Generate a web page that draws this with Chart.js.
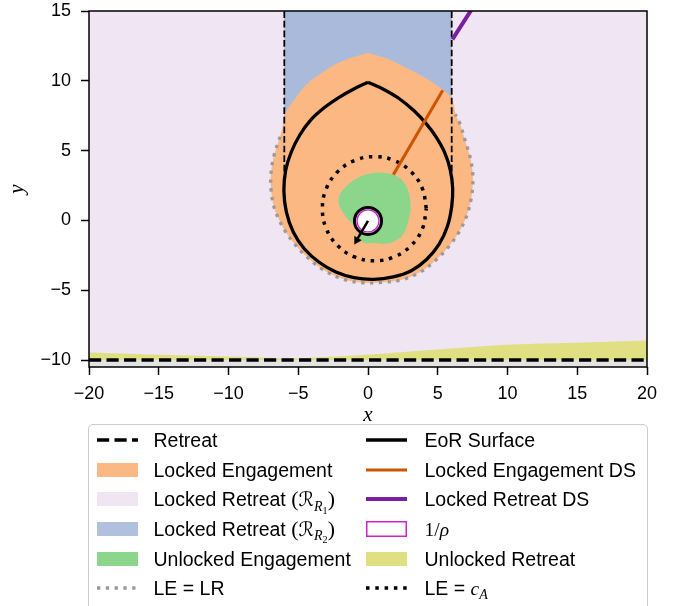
<!DOCTYPE html>
<html>
<head>
<meta charset="utf-8">
<title>Engagement regions</title>
<script src="https://cdn.jsdelivr.net/npm/chart.js@4.4.1/dist/chart.umd.min.js"></script>
<style>
  html, body { margin: 0; padding: 0; background: #ffffff; }
  #wrap { position: relative; width: 688px; height: 606px; overflow: hidden; }
  #plot { position: absolute; left: 0; top: 0; }
  #legend { position: absolute; left: 88px; top: 424px; width: 560px; height: 200px;
    box-sizing: border-box; border: 1.5px solid #cccccc; border-radius: 5px;
    background: rgba(255,255,255,0.85);
    font-family: "Liberation Sans", Arial, Helvetica, sans-serif; font-size: 19.5px; color: #000; }
  .item { position: absolute; height: 24px; }
  .item svg { position: absolute; left: 0; top: 0; overflow: visible; }
  .item .lbl { position: absolute; top: 0; line-height: 24px; white-space: nowrap; }
  .m { font-family: "Liberation Serif", "DejaVu Serif", serif; font-style: italic; }
  .scr { font-family: "DejaVu Serif", "DejaVu Sans", serif; font-style: normal; }
  .par { font-family: "Liberation Serif", serif; font-style: normal; font-size: 112%; }
  .sb { font-size: 72%; position: relative; top: 0.3em; }
</style>
</head>
<body>
<div id="wrap">
  <canvas id="plot" width="688" height="606"></canvas>
  <div id="legend">
    <!-- left column -->
    <div class="item" style="left:7.5px; top:3.2px;">
      <svg width="41" height="24"><line x1="0" y1="12" x2="41" y2="12" stroke="#000" stroke-width="3.3" stroke-dasharray="12.2 5.3"/></svg>
      <span class="lbl" style="left:57px;">Retreat</span>
    </div>
    <div class="item" style="left:7.5px; top:32.8px;">
      <svg width="41" height="24"><rect x="0" y="5" width="41" height="14" fill="#fcb882"/></svg>
      <span class="lbl" style="left:57px;">Locked Engagement</span>
    </div>
    <div class="item" style="left:7.5px; top:62.4px;">
      <svg width="41" height="24"><rect x="0" y="5" width="41" height="14" fill="#f0e5f3"/></svg>
      <span class="lbl" style="left:57px;">Locked Retreat <span class="par">(</span><span class="scr">ℛ</span><span class="sb"><span class="m">R</span><span class="sb par">1</span></span><span class="par">)</span></span>
    </div>
    <div class="item" style="left:7.5px; top:92px;">
      <svg width="41" height="24"><rect x="0" y="5" width="41" height="14" fill="#b0c0dd"/></svg>
      <span class="lbl" style="left:57px;">Locked Retreat <span class="par">(</span><span class="scr">ℛ</span><span class="sb"><span class="m">R</span><span class="sb par">2</span></span><span class="par">)</span></span>
    </div>
    <div class="item" style="left:7.5px; top:121.6px;">
      <svg width="41" height="24"><rect x="0" y="5" width="41" height="14" fill="#8cd68c"/></svg>
      <span class="lbl" style="left:57px;">Unlocked Engagement</span>
    </div>
    <div class="item" style="left:7.5px; top:151.2px;">
      <svg width="41" height="24"><line x1="0" y1="12" x2="41" y2="12" stroke="#9a9a9a" stroke-width="3.3" stroke-dasharray="3.3 5.5"/></svg>
      <span class="lbl" style="left:57px;">LE = LR</span>
    </div>
    <!-- right column -->
    <div class="item" style="left:277px; top:3.2px;">
      <svg width="41" height="24"><line x1="0" y1="12" x2="41" y2="12" stroke="#000" stroke-width="3.3"/></svg>
      <span class="lbl" style="left:58.5px;">EoR Surface</span>
    </div>
    <div class="item" style="left:277px; top:32.8px;">
      <svg width="41" height="24"><line x1="0" y1="12" x2="41" y2="12" stroke="#cc5500" stroke-width="3"/></svg>
      <span class="lbl" style="left:58.5px;">Locked Engagement DS</span>
    </div>
    <div class="item" style="left:277px; top:62.4px;">
      <svg width="41" height="24"><line x1="0" y1="12" x2="41" y2="12" stroke="#7b1fa2" stroke-width="4"/></svg>
      <span class="lbl" style="left:58.5px;">Locked Retreat DS</span>
    </div>
    <div class="item" style="left:277px; top:92px;">
      <svg width="41" height="24"><rect x="0.75" y="4.75" width="39.5" height="14.5" fill="#ffffff" stroke="#d020d0" stroke-width="1.5"/></svg>
      <span class="lbl" style="left:58.5px;"><span class="par" style="font-size:100%">1/</span><span class="m">ρ</span></span>
    </div>
    <div class="item" style="left:277px; top:121.6px;">
      <svg width="41" height="24"><rect x="0" y="5" width="41" height="14" fill="#e0df82"/></svg>
      <span class="lbl" style="left:58.5px;">Unlocked Retreat</span>
    </div>
    <div class="item" style="left:277px; top:151.2px;">
      <svg width="41" height="24"><line x1="0" y1="12" x2="41" y2="12" stroke="#000" stroke-width="3.5" stroke-dasharray="3.5 5.8"/></svg>
      <span class="lbl" style="left:58.5px;">LE = <span class="m">c</span><span class="sb m">A</span></span>
    </div>
  </div>
</div>
<script>
// Axis ranges and tick positions
const xRange = [-20, 20];
const yRange = [-10.5, 15];
const xTicks = [-20, -15, -10, -5, 0, 5, 10, 15, 20];
const yTicks = [-10, -5, 0, 5, 10, 15];

// Region outlines, (x, y) pairs
const belowRetreat = [[-20, -10.5], [20, -10.5], [20, -10], [-20, -10]];
const lockedRetreat1 = [[-20, -10], [20, -10], [20, 15], [-20, 15]];
const unlockedRetreat = [[-20, -9.46], [-15, -9.62], [-10, -9.74], [-7, -9.84], [-6, -9.9], [-5, -9.88],
  [-3, -9.78], [-1, -9.67], [1, -9.55], [3.7, -9.33], [6, -9.17], [9.5, -8.93], [12, -8.84],
  [15, -8.76], [20, -8.61], [20, -10], [-20, -10]];
const lockedRetreat2 = [[-6, 3.5], [6, 3.5], [6, 15], [-6, 15]];
const lockedEngagement = [[0, 12.0], [1.2, 11.65], [2.3, 11.15], [3.4, 10.6], [4.45, 10.0], [5.3, 9.4],
  [5.95, 8.85], [6.15, 8.3], [6.3, 7.55], [6.6, 6.9], [7.0, 5.6], [7.35, 4.4], [7.52, 3.1],
  [7.42, 1.7], [7.1, 0.4], [6.6, -0.7], [5.85, -1.8], [4.85, -2.85], [3.75, -3.7], [2.45, -4.25],
  [1.1, -4.43], [-0.35, -4.47], [-1.8, -4.2], [-3.35, -3.45], [-4.5, -2.5], [-5.25, -1.7],
  [-5.95, -0.75], [-6.4, 0.1], [-6.75, 1.0], [-6.95, 2.2], [-6.95, 3.4], [-6.75, 4.6], [-6.4, 5.7],
  [-6.1, 6.8], [-5.95, 7.65], [-5.2, 8.75], [-4.4, 9.75], [-3.4, 10.5], [-2.5, 11.1], [-1.2, 11.65],
  [0, 12.0]];
const unlockedEngagement = [[1.3, 3.4], [2.0, 3.2], [2.6, 2.7], [2.95, 1.9], [3.05, 0.9], [2.85, -0.2],
  [2.5, -1.05], [1.9, -1.5], [1.3, -1.68], [0.4, -1.62], [-0.33, -1.6], [-0.7, -0.75], [-0.4, -0.3],
  [-0.88, -0.29], [-1.2, -0.15], [-1.65, 0.36], [-2.1, 1.2], [-2.0, 1.9], [-1.55, 2.45], [-0.9, 2.95],
  [-0.1, 3.3], [0.6, 3.42], [1.3, 3.4]];

// Boundary curves
const retreatLine = [[-20, -10], [20, -10]];
const r2EdgeLeft = [[-6, 3.5], [-6, 15]];
const r2EdgeRight = [[6, 3.5], [6, 15]];
const leEqualsLr = [[-6.3, 6.0], [-6.75, 4.6], [-6.95, 3.4], [-6.95, 2.2], [-6.75, 1.0], [-6.4, 0.1],
  [-5.95, -0.75], [-5.25, -1.7], [-4.5, -2.5], [-3.35, -3.45], [-1.8, -4.2], [-0.35, -4.47],
  [1.1, -4.43], [2.45, -4.25], [3.75, -3.7], [4.85, -2.85], [5.85, -1.8], [6.6, -0.7], [7.1, 0.4],
  [7.42, 1.7], [7.52, 3.1], [7.35, 4.4], [7.0, 5.6], [6.6, 6.9], [6.25, 7.6]];
const eorSurface = [[0, 9.9], [1.1, 9.4], [2.2, 8.75], [3.3, 7.85], [4.2, 6.9], [4.9, 5.95], [5.5, 4.85],
  [5.9, 3.6], [6.07, 2.3], [6.0, 1.0], [5.7, -0.4], [5.1, -1.7], [4.2, -2.8], [3.1, -3.6],
  [1.8, -4.05], [0.4, -4.22], [-1.0, -4.1], [-2.3, -3.7], [-3.5, -3.0], [-4.55, -2.05],
  [-5.35, -0.85], [-5.85, 0.6], [-6.03, 2.1], [-5.9, 3.6], [-5.5, 4.9], [-4.9, 6.1], [-4.1, 7.2],
  [-3.1, 8.1], [-2.1, 8.8], [-1.05, 9.4], [0, 9.9]];
const leEqualsCa = [[4.18, 0.84], [3.90, 2.27], [3.09, 3.48], [1.88, 4.29], [0.46, 4.57], [-0.97, 4.29],
  [-2.18, 3.48], [-2.99, 2.27], [-3.27, 0.84], [-2.99, -0.59], [-2.18, -1.80], [-0.97, -2.61],
  [0.46, -2.89], [1.88, -2.61], [3.09, -1.80], [3.90, -0.59], [4.18, 0.84]];
const lockedEngagementDS = [[1.82, 3.28], [5.36, 9.33]];
const lockedRetreatDS = [[6.05, 12.97], [7.68, 15.5]];

// Pursuer position and heading
const pursuer = [[0.0, -0.04]];
const headingShaft = [[0.0, -0.04], [-0.8, -1.4]];
const headingTip = [[-0.8, -1.42]];

const pts = a => a.map(([x, y]) => ({ x, y }));
function series(label, coords, opts) {
  return Object.assign({
    label, data: pts(coords), pointRadius: 0, pointHoverRadius: 0,
    borderWidth: 0, borderColor: 'rgba(0,0,0,0)', backgroundColor: 'rgba(0,0,0,0)',
    fill: false, tension: 0, borderCapStyle: 'butt', borderJoinStyle: 'round'
  }, opts);
}
const area = (label, coords, color, tension) =>
  series(label, coords, { fill: 'shape', backgroundColor: color, tension: tension || 0 });

// listed from bottom layer to top layer
const layers = [
  area('below', belowRetreat, '#e3e3e3'),
  area('Locked Retreat R1', lockedRetreat1, '#f0e5f3'),
  area('Unlocked Retreat', unlockedRetreat, '#e0df82'),
  area('Locked Retreat R2', lockedRetreat2, '#aabadb'),
  area('Locked Engagement', lockedEngagement, '#fcb882', 0.35),
  area('Unlocked Engagement', unlockedEngagement, '#8cd68c', 0.35),
  series('LE = LR', leEqualsLr, { borderColor: '#9a9a9a', borderWidth: 3.3, borderDash: [3.3, 5.5], tension: 0.35 }),
  series('R2 left edge', r2EdgeLeft, { borderColor: '#000', borderWidth: 1.8, borderDash: [6.7, 2.9] }),
  series('R2 right edge', r2EdgeRight, { borderColor: '#000', borderWidth: 1.8, borderDash: [6.7, 2.9] }),
  series('Retreat', retreatLine, { borderColor: '#000', borderWidth: 3.3, borderDash: [12.2, 5.3] }),
  series('EoR Surface', eorSurface, { borderColor: '#000', borderWidth: 3.3, tension: 0.35 }),
  series('LE = cA', leEqualsCa, { borderColor: '#000', borderWidth: 3.5, borderDash: [3.5, 5.8], tension: 0.4 }),
  series('Locked Engagement DS', lockedEngagementDS, { borderColor: '#cc5500', borderWidth: 3 }),
  series('Locked Retreat DS', lockedRetreatDS, { borderColor: '#7b1fa2', borderWidth: 4 }),
  series('pursuer', pursuer, { showLine: false, pointRadius: 13.5, pointBorderWidth: 3,
    pointBorderColor: '#000', pointBackgroundColor: '#ffffff' }),
  series('1/rho', pursuer, { showLine: false, pointRadius: 11, pointBorderWidth: 1.3,
    pointBorderColor: '#d020d0', pointBackgroundColor: 'rgba(0,0,0,0)' }),
  series('heading', headingShaft, { borderColor: '#000', borderWidth: 2.5 }),
  series('heading tip', headingTip, { showLine: false, pointRadius: 4.5, pointStyle: 'triangle',
    rotation: 210, pointBorderWidth: 0.5, pointBorderColor: '#000', pointBackgroundColor: '#000' })
];
layers.forEach((d, i) => { d.order = layers.length - i; });

const tickFont = { family: "'Liberation Sans', Arial, Helvetica, sans-serif", size: 18 };
const mathFont = { family: "'Liberation Serif', 'DejaVu Serif', serif", style: 'italic', size: 21 };
const fmt = v => (v < 0 ? '\u2212' + Math.abs(v) : String(v));
const tickGrid = { display: true, drawOnChartArea: false, drawTicks: true, tickLength: 8, tickWidth: 1.5, tickColor: '#000' };

const frame = {
  id: 'frame',
  afterDraw(chart) {
    const { ctx, chartArea: a } = chart;
    ctx.save();
    ctx.strokeStyle = '#000';
    ctx.lineWidth = 1.5;
    ctx.strokeRect(a.left, a.top, a.right - a.left, a.bottom - a.top);
    ctx.restore();
  }
};

// keep the plot box fixed: no extra room reserved for overhanging tick labels
const noOverhang = s => { s.paddingTop = 0; s.paddingBottom = 0; s.paddingLeft = 0; s.paddingRight = 0; };

new Chart(document.getElementById('plot'), {
  type: 'line',
  data: { datasets: layers },
  plugins: [frame],
  options: {
    responsive: false, animation: false, devicePixelRatio: 1, events: [],
    layout: { autoPadding: false, padding: { left: 0, right: 41, top: 11, bottom: 178 } },
    plugins: { legend: { display: false }, tooltip: { enabled: false } },
    scales: {
      x: {
        type: 'linear', min: xRange[0], max: xRange[1],
        afterFit: s => { s.height = 61; noOverhang(s); },
        afterBuildTicks: s => { s.ticks = xTicks.map(v => ({ value: v })); },
        grid: tickGrid, border: { display: false },
        ticks: { color: '#000', font: tickFont, padding: 8, maxRotation: 0, autoSkip: false, callback: fmt },
        title: { display: true, text: 'x', color: '#000', font: mathFont, padding: { top: 0, bottom: 0 } }
      },
      y: {
        type: 'linear', min: yRange[0], max: yRange[1],
        afterFit: s => { s.width = 89; noOverhang(s); },
        afterBuildTicks: s => { s.ticks = yTicks.map(v => ({ value: v })); },
        grid: tickGrid, border: { display: false },
        ticks: { color: '#000', font: tickFont, padding: 10, autoSkip: false, callback: fmt },
        title: { display: true, text: 'y', color: '#000', font: mathFont, padding: { top: 5, bottom: 0 } }
      }
    }
  }
});
</script>
</body>
</html>
